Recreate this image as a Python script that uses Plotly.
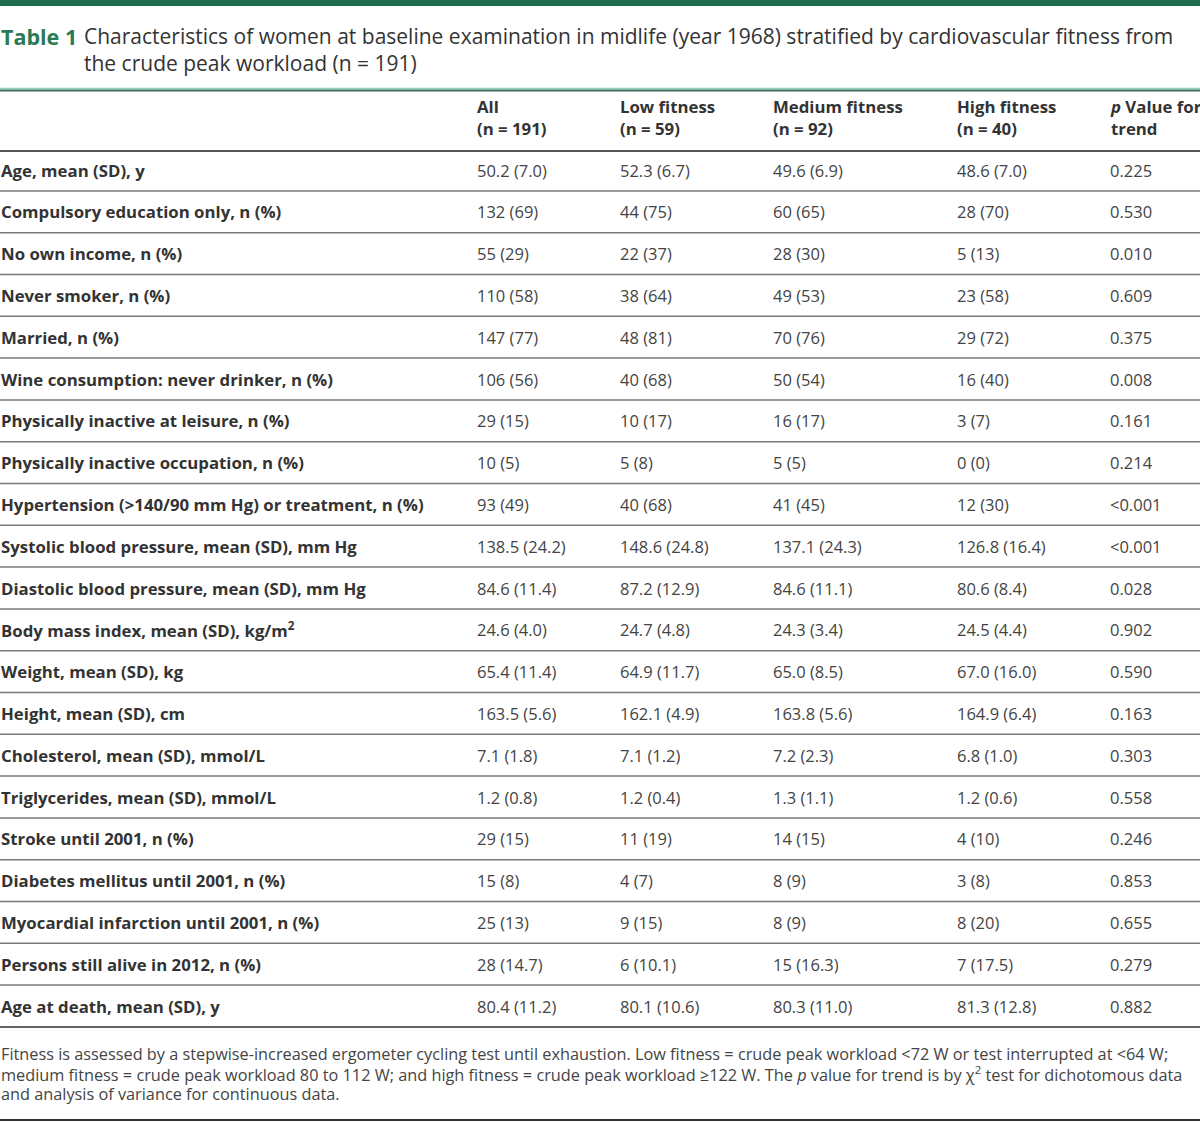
import plotly.graph_objects as go

# ---------------- data ----------------
row_labels = [
    "Age, mean (SD), y",
    "Compulsory education only, n (%)",
    "No own income, n (%)",
    "Never smoker, n (%)",
    "Married, n (%)",
    "Wine consumption: never drinker, n (%)",
    "Physically inactive at leisure, n (%)",
    "Physically inactive occupation, n (%)",
    "Hypertension (>140/90 mm Hg) or treatment, n (%)",
    "Systolic blood pressure, mean (SD), mm Hg",
    "Diastolic blood pressure, mean (SD), mm Hg",
    "Body mass index, mean (SD), kg/m<sup>2</sup>",
    "Weight, mean (SD), kg",
    "Height, mean (SD), cm",
    "Cholesterol, mean (SD), mmol/L",
    "Triglycerides, mean (SD), mmol/L",
    "Stroke until 2001, n (%)",
    "Diabetes mellitus until 2001, n (%)",
    "Myocardial infarction until 2001, n (%)",
    "Persons still alive in 2012, n (%)",
    "Age at death, mean (SD), y",
]
col_all = ["50.2 (7.0)", "132 (69)", "55 (29)", "110 (58)", "147 (77)", "106 (56)", "29 (15)",
           "10 (5)", "93 (49)", "138.5 (24.2)", "84.6 (11.4)", "24.6 (4.0)", "65.4 (11.4)",
           "163.5 (5.6)", "7.1 (1.8)", "1.2 (0.8)", "29 (15)", "15 (8)", "25 (13)",
           "28 (14.7)", "80.4 (11.2)"]
col_low = ["52.3 (6.7)", "44 (75)", "22 (37)", "38 (64)", "48 (81)", "40 (68)", "10 (17)",
           "5 (8)", "40 (68)", "148.6 (24.8)", "87.2 (12.9)", "24.7 (4.8)", "64.9 (11.7)",
           "162.1 (4.9)", "7.1 (1.2)", "1.2 (0.4)", "11 (19)", "4 (7)", "9 (15)",
           "6 (10.1)", "80.1 (10.6)"]
col_med = ["49.6 (6.9)", "60 (65)", "28 (30)", "49 (53)", "70 (76)", "50 (54)", "16 (17)",
           "5 (5)", "41 (45)", "137.1 (24.3)", "84.6 (11.1)", "24.3 (3.4)", "65.0 (8.5)",
           "163.8 (5.6)", "7.2 (2.3)", "1.3 (1.1)", "14 (15)", "8 (9)", "8 (9)",
           "15 (16.3)", "80.3 (11.0)"]
col_high = ["48.6 (7.0)", "28 (70)", "5 (13)", "23 (58)", "29 (72)", "16 (40)", "3 (7)",
            "0 (0)", "12 (30)", "126.8 (16.4)", "80.6 (8.4)", "24.5 (4.4)", "67.0 (16.0)",
            "164.9 (6.4)", "6.8 (1.0)", "1.2 (0.6)", "4 (10)", "3 (8)", "8 (20)",
            "7 (17.5)", "81.3 (12.8)"]
col_p = ["0.225", "0.530", "0.010", "0.609", "0.375", "0.008", "0.161", "0.214", "<0.001",
         "<0.001", "0.028", "0.902", "0.590", "0.163", "0.303", "0.558", "0.246", "0.853",
         "0.655", "0.279", "0.882"]
headers = ["All<br>(n = 191)", "Low fitness<br>(n = 59)", "Medium fitness<br>(n = 92)",
           "High fitness<br>(n = 40)", "<i>p</i> Value for<br>trend"]
title_label = "Table 1"
title_text = ["Characteristics of women at baseline examination in midlife (year 1968) stratified by cardiovascular fitness from",
              "the crude peak workload (n = 191)"]
footer_lines = [
    "Fitness is assessed by a stepwise-increased ergometer cycling test until exhaustion. Low fitness = crude peak workload <72 W or test interrupted at <64 W;",
    "medium fitness = crude peak workload 80 to 112 W; and high fitness = crude peak workload ≥122 W. The <i>p</i> value for trend is by χ<sup>2</sup> test for dichotomous data",
    "and analysis of variance for continuous data.",
]

# ---------------- layout constants ----------------
FONT = "Open Sans"
GREEN = "#1d6b4b"
TXT = "#333333"
VAL = "#444444"
col_x = [476, 619, 772, 956, 1109]
row_y0, row_step = 170, 41.8

fig = go.Figure()
ann = []
shapes = []

def A(x, y, text, size=16, color=VAL, weight="normal", yanchor="middle", family=FONT):
    ann.append(dict(x=x, y=y, xref="x", yref="y", text=text, showarrow=False,
                    xanchor="left", yanchor=yanchor, align="left", borderpad=0,
                    font=dict(family=family, size=size, color=color, weight=weight)))

def L(y, color, width):
    shapes.append(dict(type="line", xref="x", yref="y", x0=0, x1=1200, y0=y, y1=y,
                       line=dict(color=color, width=width)))

# top bar
shapes.append(dict(type="rect", xref="x", yref="y", x0=0, x1=1200, y0=0, y1=6,
                   fillcolor=GREEN, line=dict(width=0)))
# title
A(0, 36, title_label, size=21.5, color="#2a7a55", weight="bold")
A(83, 36, title_text[0], size=21, color=TXT)
A(83, 63, title_text[1], size=21, color=TXT)
L(88.5, "#8fd1b3", 1.5)
L(90.5, "#3b6f5c", 2)

# header
for x, h in zip(col_x, headers):
    A(x, 117.5, h, size=16.8, color=TXT, weight="bold")
L(151, "#555555", 2)

# rows
cols = [col_all, col_low, col_med, col_high, col_p]
n = len(row_labels)
for i, lab in enumerate(row_labels):
    y = row_y0 + i * row_step
    A(0, y, lab, size=16.8, color=TXT, weight="bold")
    for x, c in zip(col_x, cols):
        A(x, y, c[i], size=16.5, color=VAL)
    ysep = y + row_step / 2
    if i < n - 1:
        L(ysep, "#7a7a7a", 1.5)
    else:
        L(ysep, "#666666", 2)

# footer
for j, t in enumerate(footer_lines):
    A(0, 1054 + j * 20, t, size=16.3, color="#444444")
L(1120, "#333333", 2)

fig.update_layout(
    width=1200, height=1122,
    margin=dict(l=0, r=0, t=0, b=0),
    paper_bgcolor="white", plot_bgcolor="white",
    xaxis=dict(range=[0, 1200], visible=False, fixedrange=True),
    yaxis=dict(range=[1122, 0], visible=False, fixedrange=True),
    annotations=ann, shapes=shapes, showlegend=False,
)
fig.write_html("out.html", config={"displayModeBar": False},
               post_script="document.body.style.margin='0';document.body.style.overflow='hidden';")
